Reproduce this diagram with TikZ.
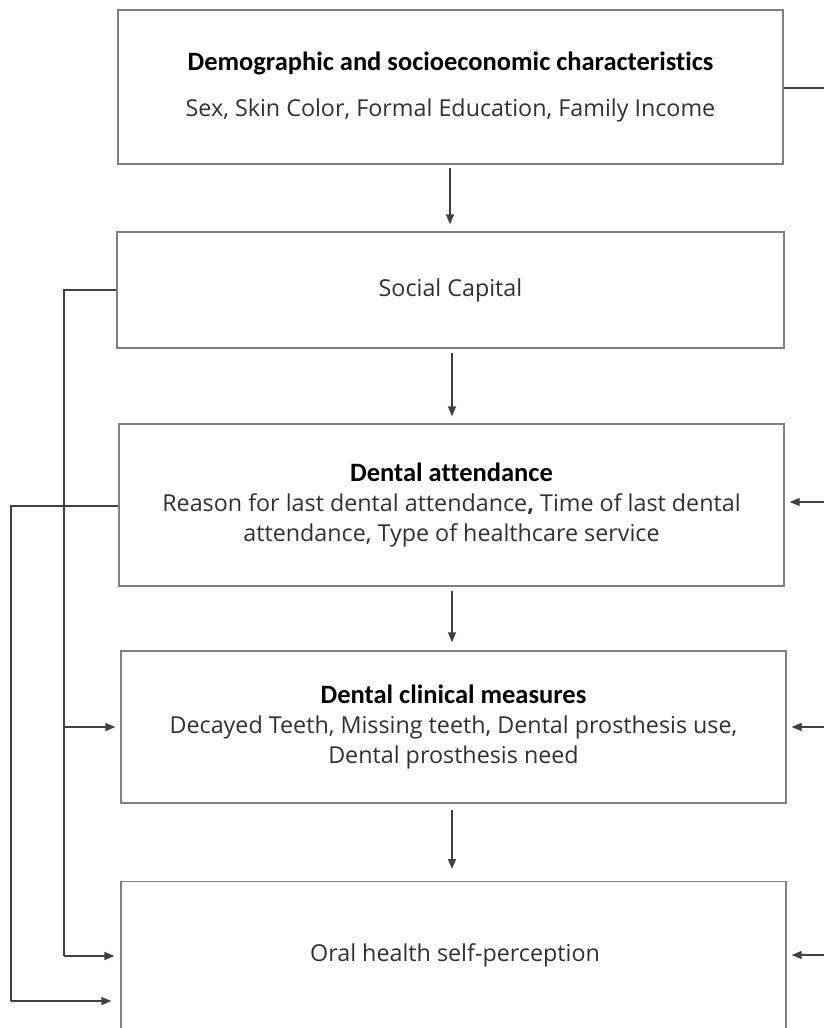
\documentclass[tikz,border=0pt]{standalone}
\usepackage{fontspec}
\setmainfont{Open Sans}
\newfontfamily\headfont[Ligatures={NoCommon}]{Carlito}
\usetikzlibrary{arrows.meta}
\definecolor{boxgray}{HTML}{7F7F7F}
\definecolor{linegray}{HTML}{404040}
\definecolor{txtgray}{HTML}{303030}
\tikzset{
  box/.style={draw=boxgray, line width=1.3pt, rectangle, align=center, inner sep=0pt,
    font=\fontsize{23.3}{30}\selectfont, text=txtgray},
  conn/.style={draw=linegray, line width=1.3pt},
  arr/.style={conn, -{Triangle[length=10pt,width=8pt]}},
}
\newcommand{\hd}[1]{{\headfont\bfseries\fontsize{26.5}{30}\selectfont\color{black}#1}}
\begin{document}
\begin{tikzpicture}[x=1pt,y=-1pt]
\useasboundingbox (0,0) rectangle (824,1028);
\node[box, minimum width=665pt, minimum height=154pt] (b1) at (450.5,87)
  {\hd{Demographic and socioeconomic characteristics}\\[16pt]
   Sex, Skin Color, Formal Education, Family Income};
\node[box, minimum width=667pt, minimum height=116pt] (b2) at (450.5,290)
  {Social Capital};
\node[box, minimum width=665pt, minimum height=162pt] (b3) at (451.5,505)
  {\hd{Dental attendance}\\
   Reason for last dental attendance\textbf{,} Time of last dental\\
   attendance, Type of healthcare service};
\node[box, minimum width=665pt, minimum height=152pt] (b4) at (453.5,727)
  {\hd{Dental clinical measures}\\
   Decayed Teeth, Missing teeth, Dental prosthesis use,\\
   Dental prosthesis need};
\node[box, minimum width=665pt, minimum height=160pt, anchor=north] (b5) at (453.5,881)
  {};
\node[font=\fontsize{23.3}{30}\selectfont, text=txtgray] (t5) at (455,955) {Oral health self-perception};
% vertical arrows
\draw[arr, shorten <=3pt, shorten >=7pt] (b1.south -| 450,0) -- (b2.north -| 450,0);
\draw[arr, shorten <=4pt, shorten >=7pt] (b2.south -| 452,0) -- (b3.north -| 452,0);
\draw[arr, shorten <=4pt, shorten >=8pt] (b3.south -| 452,0) -- (b4.north -| 452,0);
\draw[arr, shorten <=6pt, shorten >=12pt] (b4.south -| 452,0) -- (b5.north -| 452,0);
% left connectors
\coordinate (l1) at (64,0);
\coordinate (l2) at (11,0);
\draw[conn] (b2.west) -- (b2.west -| l1) -- (l1 |- 0,956);
\draw[arr, shorten >=6pt] (l1 |- 0,956) -- (b5.west |- 0,956);
\draw[arr, shorten >=5pt] (l1 |- b4.west) -- (b4.west);
\draw[conn] ([yshift=-1pt]b3.west) -- ([yshift=-1pt]b3.west -| l2) -- (l2 |- 0,1001);
\draw[arr, shorten >=9pt] (l2 |- 0,1001) -- (b5.west |- 0,1001);
% right connectors
\coordinate (r) at (824,0);
\draw[conn] ([yshift=-1pt]b1.east) -- ([yshift=-1pt]b1.east -| r);
\draw[arr, shorten >=5pt] ([yshift=3pt]b3.east -| r) -- ([yshift=3pt]b3.east);
\draw[arr, shorten >=5pt] (b4.east -| r) -- (b4.east);
\draw[arr, shorten >=5pt] (r |- t5) -- (b5.east |- t5);
\end{tikzpicture}
\end{document}
